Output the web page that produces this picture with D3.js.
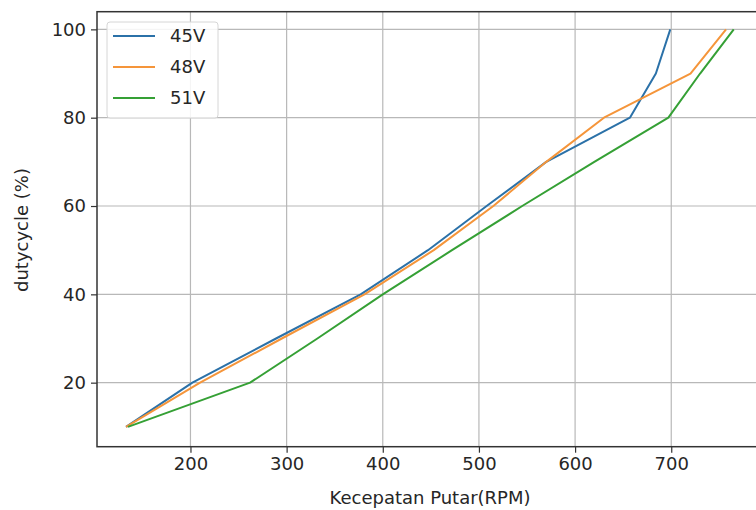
<!DOCTYPE html>
<html>
<head>
<meta charset="utf-8">
<script src="https://cdn.jsdelivr.net/npm/d3@7"></script>
<style>
  body { margin: 0; background: #fff; }
  svg text { font-family: "DejaVu Sans", sans-serif; fill: #262626; }
</style>
</head>
<body>
<svg id="chart" width="756" height="510"></svg>
<script>
// duty cycle steps (y) and measured speed (x) for each supply voltage
const duty = [10, 20, 30, 40, 50, 60, 70, 80, 90, 100]
const rpm45 = [133, 202, 289, 377, 447, 508, 570, 657, 684, 699]
const rpm48 = [133, 210, 295, 381, 453, 515, 570, 630, 720, 757]
const rpm51 = [135, 262, 332, 400, 472, 545, 620, 697, 730, 765]
const seriesNames = ['45V', '48V', '51V']
const xTicks = [200, 300, 400, 500, 600, 700]
const yTicks = [20, 40, 60, 80, 100]

const colors = ['#2b71a8', '#f5953a', '#35a035']

const width = 756,
    height = 510,
    margin = {top: 11.7, left: 97, bottom: 63.3, right: -9}

const series = [rpm45, rpm48, rpm51].map((r, i) => ({
    name: seriesNames[i],
    color: colors[i],
    values: r.map((v, j) => ({x: v, y: duty[j]}))
}))

const svg = d3.select('#chart')

const x = d3.scaleLinear()
    .domain([102.8, 797.5])
    .range([margin.left, width - margin.right])

const y = d3.scaleLinear()
    .domain([5.5, 104])
    .range([height - margin.bottom, margin.top])

const plotBottom = height - margin.bottom

// grid
svg.append('g')
    .selectAll('line')
    .data(xTicks)
    .enter()
    .append('line')
    .attr('x1', d => x(d)).attr('x2', d => x(d))
    .attr('y1', margin.top).attr('y2', plotBottom)
    .attr('stroke', '#b8b8b8').attr('stroke-width', 1.2)

svg.append('g')
    .selectAll('line')
    .data(yTicks)
    .enter()
    .append('line')
    .attr('x1', margin.left).attr('x2', width)
    .attr('y1', d => y(d)).attr('y2', d => y(d))
    .attr('stroke', '#b8b8b8').attr('stroke-width', 1.2)

// axes
const xAxis = d3.axisBottom(x)
    .tickValues(xTicks)
    .tickSize(6)
    .tickPadding(5)

const yAxis = d3.axisLeft(y)
    .tickValues(yTicks)
    .tickSize(6)
    .tickPadding(5)

const gx = svg.append('g')
    .attr('transform', 'translate(0,' + plotBottom + ')')
    .call(xAxis)
const gy = svg.append('g')
    .attr('transform', 'translate(' + margin.left + ',0)')
    .call(yAxis)

;[gx, gy].forEach(g => {
    g.select('.domain').remove()
    g.selectAll('line').attr('stroke', '#333').attr('stroke-width', 1.2)
    g.selectAll('text')
        .style('font-size', '18px')
        .style('font-family', '"DejaVu Sans", sans-serif')
        .attr('fill', '#262626')
})

// spines
svg.append('rect')
    .attr('x', margin.left)
    .attr('y', margin.top)
    .attr('width', x.range()[1] - margin.left)
    .attr('height', plotBottom - margin.top)
    .attr('fill', 'none')
    .attr('stroke', '#333')
    .attr('stroke-width', 1.5)

// lines
const line = d3.line()
    .x(d => x(d.x))
    .y(d => y(d.y))

svg.append('g')
    .selectAll('path')
    .data(series)
    .enter()
    .append('path')
    .attr('d', d => line(d.values))
    .attr('fill', 'none')
    .attr('stroke', d => d.color)
    .attr('stroke-width', 2)
    .attr('stroke-linejoin', 'round')

// axis labels
svg.append('text')
    .attr('x', 430)
    .attr('y', 504)
    .attr('text-anchor', 'middle')
    .style('font-size', '18px')
    .text('Kecepatan Putar(RPM)')

svg.append('text')
    .attr('transform', 'translate(28,230) rotate(-90)')
    .attr('text-anchor', 'middle')
    .style('font-size', '18px')
    .text('dutycycle (%)')

// legend
const legend = svg.append('g')
legend.append('rect')
    .attr('x', 107).attr('y', 22)
    .attr('width', 111).attr('height', 96)
    .attr('rx', 3)
    .attr('fill', '#fff')
    .attr('fill-opacity', 0.85)
    .attr('stroke', '#d6d6d6')

const rows = legend.selectAll('g.row')
    .data(series)
    .enter()
    .append('g')
    .attr('class', 'row')
    .attr('transform', (d, i) => 'translate(0,' + (36 + i * 31) + ')')

rows.append('line')
    .attr('x1', 113).attr('x2', 155)
    .attr('stroke', d => d.color)
    .attr('stroke-width', 2)

rows.append('text')
    .attr('x', 170)
    .attr('dy', '0.35em')
    .style('font-size', '18px')
    .text(d => d.name)
</script>
</body>
</html>
